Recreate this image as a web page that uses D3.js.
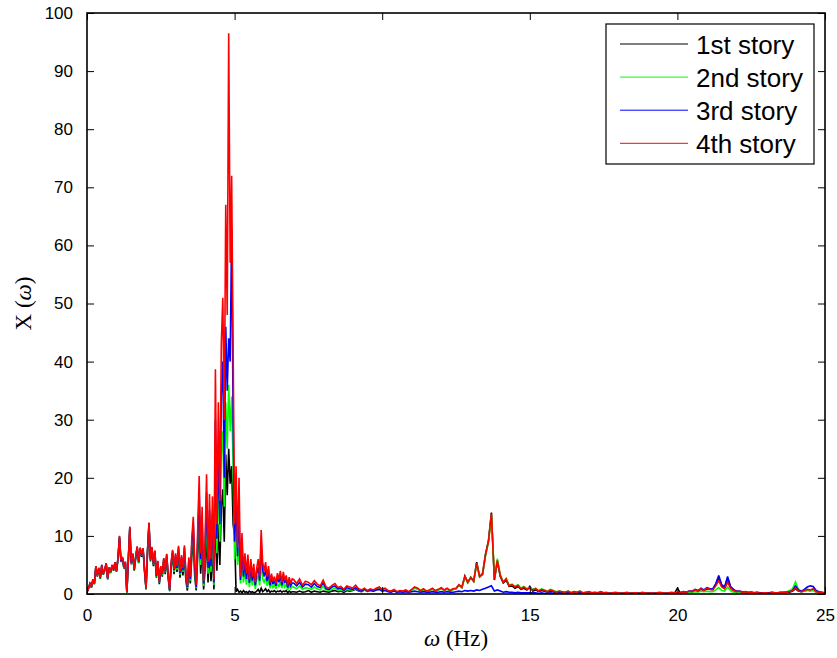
<!DOCTYPE html>
<html>
<head>
<meta charset="utf-8">
<script src="https://cdn.jsdelivr.net/npm/d3@7"></script>
<style>
  html, body { margin: 0; padding: 0; background: #fff; }
  svg { display: block; }
  .tick text { font-family: "Liberation Sans", Arial, sans-serif; }
</style>
</head>
<body>
<svg id="chart" width="837" height="658"></svg>
<script>
// Frequency bins: fine resolution up to 7 Hz, coarser above
const freqLow = d3.range(0, 140).map(i => +(i * 0.05).toFixed(2));   // 0 .. 6.95 Hz
const freqHigh = d3.range(0, 181).map(i => +(7 + i * 0.1).toFixed(1)); // 7 .. 25 Hz

// Spectrum amplitude per storey, 0 - 6.95 Hz
const story1Low = [
  0.3,0.9,1.7,1.1,2.4,1.7,4.6,3.0,4.3,2.6,
  4.8,3.3,4.0,5.1,2.5,4.4,3.6,4.8,4.0,5.3,
  3.8,6.0,9.6,5.5,6.1,4.4,5.3,0.2,5.7,11.2,
  5.1,6.7,4.0,6.2,7.9,5.3,7.6,6.4,7.5,3.9,
  0.8,7.1,11.8,5.6,7.7,4.8,7.0,2.8,5.2,1.7,
  4.3,3.0,5.6,3.4,6.2,2.7,0.5,4.6,6.7,3.4,
  6.0,3.8,7.1,2.8,5.4,3.2,6.8,2.3,0.6,4.5,
  1.8,6.4,9.2,3.0,0.6,6.5,12.0,3.5,8.0,0.8,
  4.2,10.5,2.0,8.0,2.2,7.5,0.8,14.5,4.0,12.0,
  5.0,15.0,18.0,9.0,24.0,17.0,25.0,19.0,22.0,12.0,
  10.0,0.4,0.8,0.3,0.5,0.2,0.6,0.3,0.4,0.2,
  0.5,0.3,0.4,0.2,0.3,0.5,0.8,0.3,1.0,0.4,
  0.6,0.9,0.4,0.7,0.3,0.5,0.4,0.6,0.3,0.5,
  0.4,0.6,0.3,0.5,0.4,0.6,0.2,0.5,0.3,0.4
];
const story2Low = [
  0.3,1.0,1.8,1.1,2.4,1.7,4.7,3.1,4.4,2.7,
  4.9,3.4,4.1,5.2,2.6,4.5,3.7,4.9,4.1,5.4,
  3.9,6.1,9.8,5.6,6.2,4.5,5.4,0.2,5.8,11.4,
  5.2,6.8,4.1,6.3,8.0,5.4,7.8,6.6,7.7,4.0,
  0.9,7.3,12.0,5.8,7.9,5.0,7.2,3.0,5.4,1.9,
  4.5,3.2,5.9,3.7,6.5,3.0,0.6,5.0,7.1,3.8,
  6.5,4.2,7.6,3.3,6.0,3.8,7.5,2.9,1.0,5.3,
  2.3,7.8,11.0,4.0,1.0,8.5,15.5,5.0,11.0,1.4,
  6.2,14.5,3.5,11.5,3.8,11.0,1.5,22.0,7.0,19.5,
  9.0,24.0,28.0,15.0,33.0,25.0,36.0,28.0,34.0,22.0,
  6.0,12.0,5.0,8.0,1.8,5.5,2.0,4.0,1.6,3.8,
  1.2,3.2,1.5,2.8,0.9,2.4,3.2,1.5,5.5,2.6,
  2.0,2.8,1.4,2.5,1.0,1.8,1.1,1.6,0.9,1.9,
  1.2,2.1,1.0,2.0,1.2,1.7,0.7,1.5,0.9,1.3
];
const story3Low = [
  0.3,1.0,1.8,1.2,2.5,1.8,4.8,3.2,4.5,2.8,
  5.0,3.5,4.2,5.3,2.7,4.6,3.8,5.0,4.2,5.5,
  4.0,6.2,9.9,5.7,6.3,4.6,5.5,0.3,5.9,11.5,
  5.3,6.9,4.2,6.4,8.1,5.5,7.9,6.7,7.8,4.1,
  1.0,7.4,12.2,5.9,8.0,5.1,7.4,3.1,5.6,2.0,
  4.7,3.4,6.1,3.9,6.8,3.2,0.7,5.3,7.4,4.1,
  6.8,4.5,8.0,3.6,6.4,4.1,8.0,3.2,1.2,5.9,
  2.6,8.6,12.2,4.5,1.2,9.6,17.5,6.0,13.0,1.8,
  7.6,17.5,4.5,14.5,4.8,14.0,2.0,30.0,9.5,26.0,
  12.0,34.0,40.0,20.0,46.0,35.0,44.0,40.0,63.0,30.0,
  9.0,17.0,6.5,14.0,2.4,8.0,3.0,5.5,2.6,5.3,
  1.9,4.6,2.3,4.0,1.5,3.5,4.6,2.3,8.5,4.2,
  3.0,4.2,2.2,3.7,1.5,2.7,1.7,2.3,1.4,2.8,
  2.0,3.1,1.5,2.9,1.9,2.5,1.1,2.2,1.4,1.9
];
const story4Low = [
  0.3,1.0,1.8,1.2,2.5,1.8,4.8,3.2,4.5,2.8,
  5.0,3.5,4.2,5.3,2.7,4.6,3.8,5.0,4.2,5.5,
  4.0,6.2,10.0,5.8,6.4,4.7,5.6,0.3,6.0,11.6,
  5.4,7.0,4.3,6.5,8.2,5.6,8.0,6.8,7.9,4.2,
  1.0,7.5,12.3,6.0,8.1,5.2,7.5,3.2,5.7,2.1,
  4.8,3.5,6.2,4.0,6.9,3.3,0.8,5.4,7.6,4.3,
  7.0,4.8,8.3,3.9,6.7,4.5,8.4,3.6,1.4,6.3,
  3.0,9.5,13.3,5.2,1.6,11.0,20.3,7.0,15.0,2.2,
  9.0,20.6,5.5,17.2,6.0,16.8,2.5,38.7,12.0,33.0,
  16.0,43.0,51.0,30.0,67.0,48.0,96.5,57.0,72.0,42.0,
  12.0,22.0,8.0,20.0,3.0,10.5,4.0,7.0,3.5,6.8,
  2.5,6.0,3.0,5.2,2.0,4.5,6.0,3.0,11.0,5.5,
  4.0,5.5,3.0,4.8,2.0,3.5,2.2,3.0,1.8,3.6,
  2.5,4.0,2.0,3.8,2.4,3.2,1.5,2.9,1.8,2.6
];

// Spectrum amplitude per storey, 7 - 25 Hz
const story1High = [
  0.4,0.3,0.5,0.3,0.4,0.6,0.3,0.5,0.4,0.3,
  0.5,0.4,0.3,0.5,0.6,0.4,0.5,0.3,0.6,0.5,
  0.6,0.8,0.5,0.4,0.7,0.5,0.6,0.5,0.8,0.9,
  0.6,0.8,0.5,0.4,0.7,0.3,0.5,0.4,0.6,0.3,
  0.7,1.1,0.9,0.5,0.8,0.4,0.6,0.9,0.5,0.7,
  1.0,0.6,0.9,0.5,0.8,0.9,1.5,1.1,3.1,2.0,
  2.9,2.2,5.5,3.0,3.5,6.9,9.2,14.0,2.4,5.6,
  3.0,1.9,2.4,1.3,1.4,1.0,1.3,0.8,1.0,0.7,
  1.3,0.5,0.7,0.4,0.6,0.5,0.3,0.5,0.4,0.2,
  0.4,0.3,0.2,0.4,0.2,0.3,0.2,0.4,0.1,0.2,
  0.3,0.2,0.2,0.1,0.3,0.2,0.2,0.1,0.2,0.2,
  0.1,0.1,0.2,0.2,0.1,0.1,0.2,0.1,0.2,0.1,
  0.1,0.1,0.1,0.2,0.2,0.1,0.1,0.2,0.2,0.1,
  1.0,0.2,0.3,0.3,0.4,0.4,0.6,0.5,0.8,0.6,
  0.9,0.8,0.8,1.6,2.9,1.5,1.1,2.7,1.2,0.7,
  0.4,0.4,0.3,0.3,0.2,0.3,0.2,0.2,0.1,0.2,
  0.2,0.1,0.2,0.2,0.2,0.2,0.2,0.3,0.3,0.5,
  0.9,0.5,0.4,0.5,0.7,0.6,0.8,0.4,0.3,0.2,
  0.2
];
const story2High = [
  1.2,0.9,1.4,0.8,1.1,1.0,0.8,1.2,0.9,0.7,
  1.3,0.7,0.6,0.8,1.0,0.6,0.7,0.5,0.8,0.7,
  0.7,1.0,0.6,0.5,0.7,0.4,0.6,0.5,0.7,0.9,
  0.6,0.8,0.5,0.4,0.6,0.3,0.5,0.4,0.5,0.3,
  0.6,1.0,0.8,0.5,0.7,0.4,0.6,0.8,0.5,0.7,
  1.0,0.6,0.9,0.5,0.8,0.9,1.5,1.1,2.9,1.9,
  2.8,2.1,5.2,2.9,3.3,6.6,8.9,13.6,2.6,6.1,
  3.3,2.1,2.7,1.5,1.7,1.3,1.6,1.0,1.3,0.9,
  1.1,0.8,1.0,0.6,0.9,0.7,0.5,0.8,0.6,0.4,
  0.5,0.4,0.3,0.5,0.2,0.4,0.3,0.5,0.2,0.3,
  0.3,0.2,0.3,0.2,0.3,0.2,0.2,0.1,0.2,0.2,
  0.2,0.1,0.2,0.2,0.1,0.2,0.1,0.1,0.2,0.1,
  0.1,0.1,0.1,0.2,0.2,0.1,0.1,0.2,0.2,0.2,
  0.2,0.2,0.3,0.2,0.3,0.3,0.4,0.3,0.5,0.4,
  0.5,0.4,0.4,0.7,1.1,0.6,0.5,1.2,0.6,0.3,
  0.2,0.3,0.2,0.2,0.1,0.2,0.1,0.2,0.1,0.1,
  0.1,0.1,0.2,0.1,0.2,0.2,0.3,0.4,0.6,0.9,
  2.1,0.8,0.4,0.5,0.6,0.5,0.6,0.3,0.2,0.2,
  0.1
];
const story3High = [
  1.9,1.4,2.0,1.2,1.7,1.6,1.2,1.8,1.3,1.1,
  1.9,0.9,0.8,1.2,1.4,0.9,1.0,0.6,1.1,0.9,
  0.8,1.1,0.7,0.5,0.8,0.5,0.7,0.5,0.7,0.8,
  0.5,0.6,0.4,0.3,0.5,0.3,0.4,0.3,0.4,0.3,
  0.4,0.5,0.4,0.3,0.4,0.3,0.3,0.4,0.3,0.3,
  0.4,0.3,0.4,0.3,0.3,0.4,0.5,0.4,0.6,0.5,
  0.6,0.5,0.7,0.6,0.8,1.0,1.2,1.4,0.5,0.7,
  0.5,0.3,0.4,0.3,0.3,0.2,0.3,0.2,0.2,0.2,
  0.2,0.2,0.2,0.1,0.2,0.1,0.1,0.2,0.1,0.1,
  0.2,0.1,0.1,0.2,0.1,0.1,0.1,0.2,0.1,0.1,
  0.1,0.1,0.1,0.1,0.2,0.1,0.1,0.1,0.1,0.1,
  0.1,0.1,0.1,0.1,0.1,0.1,0.1,0.1,0.1,0.1,
  0.1,0.1,0.1,0.1,0.2,0.1,0.1,0.1,0.2,0.1,
  0.2,0.2,0.4,0.3,0.5,0.5,0.8,0.6,1.0,0.7,
  1.1,0.9,0.9,1.8,3.2,1.6,1.2,3.0,1.3,0.8,
  0.5,0.5,0.4,0.4,0.3,0.3,0.2,0.3,0.2,0.2,
  0.2,0.2,0.3,0.2,0.2,0.3,0.3,0.3,0.4,0.6,
  1.4,0.7,0.5,0.8,1.2,1.4,1.3,0.6,0.4,0.3,
  0.2
];
const story4High = [
  2.5,1.8,2.6,1.5,2.2,2.0,1.6,2.3,1.7,1.4,
  2.4,1.2,1.0,1.5,1.8,1.1,1.3,0.8,1.4,1.2,
  1.0,1.5,0.9,0.7,1.0,0.6,0.9,0.7,1.0,1.2,
  0.8,1.0,0.6,0.5,0.8,0.4,0.6,0.5,0.7,0.4,
  0.8,1.2,1.0,0.6,0.9,0.5,0.7,1.0,0.6,0.8,
  1.1,0.7,1.0,0.6,0.9,1.0,1.6,1.2,3.0,2.0,
  2.8,2.2,5.3,3.0,3.4,6.7,9.0,13.8,2.5,5.8,
  3.2,2.0,2.6,1.4,1.6,1.2,1.5,0.9,1.2,0.8,
  1.0,0.7,0.9,0.5,0.8,0.6,0.4,0.7,0.5,0.3,
  0.5,0.4,0.3,0.5,0.2,0.4,0.3,0.5,0.2,0.3,
  0.4,0.2,0.3,0.2,0.4,0.2,0.3,0.1,0.2,0.3,
  0.2,0.1,0.2,0.3,0.1,0.2,0.2,0.1,0.3,0.2,
  0.1,0.2,0.1,0.2,0.3,0.2,0.1,0.2,0.3,0.2,
  0.3,0.2,0.4,0.3,0.5,0.4,0.7,0.5,0.9,0.6,
  1.0,0.8,0.7,1.4,2.3,1.2,0.9,2.0,1.0,0.6,
  0.4,0.5,0.3,0.4,0.2,0.3,0.2,0.3,0.1,0.2,
  0.2,0.1,0.3,0.2,0.2,0.3,0.2,0.3,0.4,0.6,
  1.0,0.5,0.4,0.6,0.8,0.7,0.9,0.4,0.3,0.2,
  0.2
];

const seriesNames = ["1st story", "2nd story", "3rd story", "4th story"];
const seriesColors = ["#000000", "#00ff00", "#0000ff", "#ff0000"];
const xTicks = [0, 5, 10, 15, 20, 25];
const yTicks = [0, 10, 20, 30, 40, 50, 60, 70, 80, 90, 100];

const freq = freqLow.concat(freqHigh);
const seriesValues = [
  story1Low.concat(story1High),
  story2Low.concat(story2High),
  story3Low.concat(story3High),
  story4Low.concat(story4High)
];

const svg = d3.select("#chart");
const margin = { left: 87, right: 12, top: 13, bottom: 64 };
const W = 837, H = 658;
const x0 = margin.left, x1 = W - margin.right;
const y0 = H - margin.bottom, y1 = margin.top;

const x = d3.scaleLinear().domain([0, 25]).range([x0, x1]);
const y = d3.scaleLinear().domain([0, 100]).range([y0, y1]);

svg.append("defs").append("clipPath").attr("id", "plotClip")
  .append("rect").attr("x", x0).attr("y", y1).attr("width", x1 - x0).attr("height", y0 - y1);

// Spectrum curves, 1st story drawn first so the 4th lies on top
const line = d3.line().x(d => x(d[0])).y(d => y(d[1]));
const plot = svg.append("g").attr("clip-path", "url(#plotClip)");
seriesValues.forEach((vals, k) => {
  plot.append("path")
    .datum(freq.map((f, i) => [f, vals[i]]))
    .attr("fill", "none")
    .attr("stroke", seriesColors[k])
    .attr("stroke-width", 1.6)
    .attr("stroke-linejoin", "miter")
    .attr("stroke-miterlimit", 3)
    .attr("d", line);
});

// Axes with inward ticks on all four sides
const tickLen = 7;
const fontTick = 17;
const axB = svg.append("g").attr("transform", `translate(0,${y0})`)
  .call(d3.axisBottom(x).tickValues(xTicks).tickSize(-tickLen).tickPadding(tickLen + 8).tickFormat(d3.format("d")));
const axT = svg.append("g").attr("transform", `translate(0,${y1})`)
  .call(d3.axisTop(x).tickValues(xTicks).tickSize(-tickLen).tickFormat(""));
const axL = svg.append("g").attr("transform", `translate(${x0},0)`)
  .call(d3.axisLeft(y).tickValues(yTicks).tickSize(-tickLen).tickPadding(tickLen + 7).tickFormat(d3.format("d")));
const axR = svg.append("g").attr("transform", `translate(${x1},0)`)
  .call(d3.axisRight(y).tickValues(yTicks).tickSize(-tickLen).tickFormat(""));
[axB, axT, axL, axR].forEach(a => {
  a.select(".domain").remove();
  a.selectAll(".tick line").attr("stroke", "#000").attr("stroke-width", 1);
  a.selectAll(".tick text").attr("font-size", fontTick).attr("fill", "#000");
});

svg.append("rect")
  .attr("x", x0).attr("y", y1).attr("width", x1 - x0).attr("height", y0 - y1)
  .attr("fill", "none").attr("stroke", "#000").attr("stroke-width", 1.6);

// Axis titles
const serif = "'Liberation Serif', 'DejaVu Serif', serif";
const xt = svg.append("text")
  .attr("x", (x0 + x1) / 2).attr("y", 646)
  .attr("text-anchor", "middle").attr("font-family", serif).attr("font-size", 23).attr("fill", "#000");
xt.append("tspan").attr("font-style", "italic").text("ω");
xt.append("tspan").text(" (Hz)");

const yt = svg.append("text")
  .attr("transform", `translate(31,${(y0 + y1) / 2}) rotate(-90)`)
  .attr("text-anchor", "middle").attr("font-family", serif).attr("font-size", 23).attr("fill", "#000");
yt.append("tspan").text("X (");
yt.append("tspan").attr("font-style", "italic").text("ω");
yt.append("tspan").text(")");

// Legend
const lg = svg.append("g");
lg.append("rect")
  .attr("x", 606).attr("y", 24).attr("width", 208).attr("height", 140)
  .attr("fill", "#fff").attr("stroke", "#000").attr("stroke-width", 1.2);
seriesNames.forEach((name, k) => {
  const cy = 44 + k * 33.1;
  lg.append("line").attr("x1", 620).attr("x2", 688).attr("y1", cy).attr("y2", cy)
    .attr("stroke", seriesColors[k]).attr("stroke-width", 1);
  lg.append("text").attr("x", 696).attr("y", cy + 10)
    .attr("font-family", "'Liberation Sans', Arial, sans-serif").attr("font-size", 26)
    .attr("fill", "#000").text(name);
});
</script>
</body>
</html>
